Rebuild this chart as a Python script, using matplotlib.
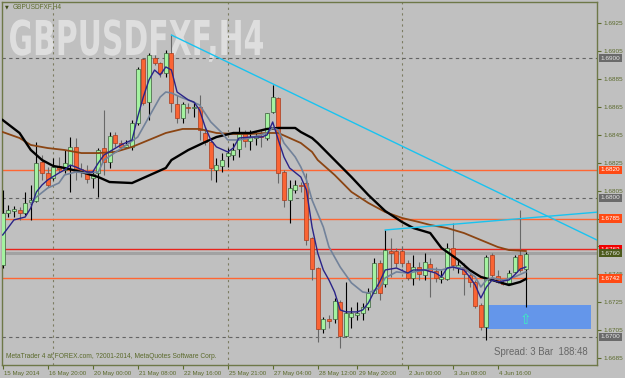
import matplotlib
matplotlib.use("Agg")
import numpy as np
import matplotlib.pyplot as plt
from matplotlib.patches import Rectangle, PathPatch
from matplotlib.textpath import TextPath
from matplotlib.font_manager import FontProperties
from matplotlib.transforms import Affine2D, offset_copy, blended_transform_factory

# GBPUSDFXF H4 candles (bar index = position on the chart)
opens = [1.67517, 1.67890, 1.67904, 1.67911, 1.67890, 1.67969, 1.67976, 1.68256, 1.68177, 1.68141,
         1.68227, 1.68199, 1.68234, 1.68364, 1.68206, 1.68191, 1.68141, 1.68177, 1.68356, 1.68256,
         1.68450, 1.68392, 1.68364, 1.68364, 1.68536, 1.68995, 1.68686, 1.69002, 1.68966, 1.68895,
         1.69038, 1.68672, 1.68572, 1.68651, 1.68643, 1.68651, 1.68464, 1.68399, 1.68199, 1.68227,
         1.68299, 1.68306, 1.68349, 1.68471, 1.68407, 1.68428, 1.68442, 1.68428, 1.68615, 1.68715,
         1.68184, 1.67983, 1.68055, 1.68091, 1.68105, 1.67711, 1.67495, 1.67058, 1.67129, 1.67129,
         1.67251, 1.67007, 1.67144, 1.67158, 1.67172, 1.67215, 1.67316, 1.67531, 1.67380, 1.67617,
         1.67617, 1.67617, 1.67531, 1.67424, 1.67502, 1.67445, 1.67524, 1.67474, 1.67416, 1.67416,
         1.67639, 1.67502, 1.67502, 1.67445, 1.67395, 1.67230, 1.67072, 1.67589, 1.67438, 1.67388,
         1.67388, 1.67467, 1.67589, 1.67488]
highs = [1.68055, 1.67947, 1.67940, 1.67933, 1.68041, 1.68091, 1.68399, 1.68306, 1.68220, 1.68285,
         1.68292, 1.68342, 1.68435, 1.68428, 1.68249, 1.68234, 1.68199, 1.68356, 1.68629, 1.68471,
         1.68471, 1.68414, 1.68414, 1.68557, 1.68938, 1.69002, 1.69038, 1.69024, 1.68974, 1.69060,
         1.69167, 1.68737, 1.68686, 1.68679, 1.68686, 1.68737, 1.68507, 1.68428, 1.68285, 1.68320,
         1.68356, 1.68392, 1.68507, 1.68486, 1.68486, 1.68471, 1.68486, 1.68608, 1.68808, 1.68722,
         1.68199, 1.68127, 1.68127, 1.68112, 1.68177, 1.67718, 1.67502, 1.67144, 1.67158, 1.67280,
         1.67266, 1.67395, 1.67215, 1.67251, 1.67244, 1.67352, 1.67567, 1.67553, 1.67768, 1.67711,
         1.67639, 1.67653, 1.67553, 1.67589, 1.67538, 1.67603, 1.67567, 1.67502, 1.67481, 1.67675,
         1.67818, 1.67553, 1.67531, 1.67459, 1.67409, 1.67244, 1.67589, 1.67603, 1.67481, 1.67409,
         1.67481, 1.67589, 1.67911, 1.67610]
lows = [1.67495, 1.67861, 1.67861, 1.67840, 1.67876, 1.67840, 1.67969, 1.68127, 1.68077, 1.68127,
        1.68184, 1.68177, 1.68041, 1.68127, 1.68148, 1.68105, 1.68069, 1.68005, 1.68163, 1.68213,
        1.68364, 1.68342, 1.68356, 1.68342, 1.68521, 1.68665, 1.68557, 1.68952, 1.68866, 1.68866,
        1.68615, 1.68536, 1.68536, 1.68608, 1.68579, 1.68414, 1.68378, 1.68127, 1.68112, 1.68184,
        1.68220, 1.68270, 1.68292, 1.68364, 1.68342, 1.68378, 1.68364, 1.68414, 1.68608, 1.68105,
        1.67933, 1.67818, 1.68033, 1.68041, 1.67660, 1.67409, 1.66964, 1.67029, 1.67065, 1.67101,
        1.66921, 1.67000, 1.67065, 1.67122, 1.67122, 1.67194, 1.67316, 1.67266, 1.67359, 1.67431,
        1.67502, 1.67502, 1.67409, 1.67373, 1.67409, 1.67409, 1.67287, 1.67395, 1.67388, 1.67409,
        1.67481, 1.67459, 1.67302, 1.67359, 1.67208, 1.67050, 1.66979, 1.67431, 1.67388, 1.67373,
        1.67373, 1.67459, 1.67467, 1.67215]
closes = [1.67890, 1.67911, 1.67919, 1.67890, 1.67962, 1.67983, 1.68249, 1.68177, 1.68091, 1.68220,
          1.68206, 1.68249, 1.68364, 1.68206, 1.68184, 1.68134, 1.68170, 1.68342, 1.68256, 1.68442,
          1.68392, 1.68364, 1.68378, 1.68536, 1.68923, 1.68679, 1.69024, 1.68966, 1.68895, 1.69038,
          1.68679, 1.68572, 1.68672, 1.68643, 1.68651, 1.68486, 1.68399, 1.68213, 1.68234, 1.68270,
          1.68320, 1.68342, 1.68464, 1.68407, 1.68435, 1.68442, 1.68435, 1.68608, 1.68722, 1.68177,
          1.67983, 1.68069, 1.68091, 1.68084, 1.67696, 1.67488, 1.67058, 1.67129, 1.67115, 1.67258,
          1.67007, 1.67172, 1.67172, 1.67172, 1.67215, 1.67316, 1.67531, 1.67316, 1.67624, 1.67603,
          1.67531, 1.67531, 1.67424, 1.67502, 1.67452, 1.67538, 1.67474, 1.67424, 1.67431, 1.67639,
          1.67517, 1.67517, 1.67452, 1.67395, 1.67223, 1.67072, 1.67574, 1.67445, 1.67395, 1.67380,
          1.67459, 1.67574, 1.67481, 1.67596]

# moving averages (bar, price)
fast_bars = [0, 2, 4, 5, 6, 7, 8, 10, 11, 12, 13, 15, 16, 17, 18, 21, 23, 24, 25, 26, 27, 28, 29, 30,
             31, 33, 34, 35, 36, 37, 38, 40, 41, 42, 44, 46, 47, 48, 49, 50, 51, 53, 54, 55, 56, 57,
             58, 59, 60, 61, 63, 64, 65, 66, 67, 68, 70, 72, 73, 75, 77, 78, 79, 80, 82, 83, 84, 85,
             86, 87, 88, 90, 91, 92, 93]
fast_ma = [1.67732, 1.67840, 1.67861, 1.67926, 1.68041, 1.68091, 1.68127, 1.68177, 1.68199, 1.68234,
           1.68220, 1.68184, 1.68184, 1.68249, 1.68306, 1.68378, 1.68414, 1.68579, 1.68722, 1.68844,
           1.68916, 1.68880, 1.68938, 1.68916, 1.68758, 1.68701, 1.68686, 1.68629, 1.68507, 1.68414,
           1.68364, 1.68328, 1.68356, 1.68428, 1.68435, 1.68435, 1.68450, 1.68543, 1.68414, 1.68292,
           1.68213, 1.68148, 1.68055, 1.67789, 1.67603, 1.67481, 1.67409, 1.67323, 1.67194, 1.67180,
           1.67180, 1.67194, 1.67244, 1.67323, 1.67395, 1.67481, 1.67495, 1.67459, 1.67481, 1.67481,
           1.67459, 1.67431, 1.67495, 1.67502, 1.67481, 1.67431, 1.67373, 1.67280, 1.67359, 1.67409,
           1.67395, 1.67409, 1.67445, 1.67488, 1.67502]

mid_bars = [5, 6, 8, 10, 11, 13, 15, 17, 18, 22, 24, 26, 28, 29, 30, 32, 33, 35, 37, 39, 40, 42, 44,
            47, 48, 49, 50, 52, 53, 54, 55, 57, 58, 60, 62, 64, 65, 67, 68, 70, 72, 76, 78, 80, 82,
            84, 85, 86, 87, 89, 91, 93]
mid_ma = [1.67955, 1.68005, 1.68069, 1.68105, 1.68163, 1.68184, 1.68177, 1.68184, 1.68270, 1.68378,
          1.68435, 1.68579, 1.68722, 1.68758, 1.68751, 1.68715, 1.68701, 1.68665, 1.68543, 1.68464,
          1.68414, 1.68414, 1.68428, 1.68464, 1.68500, 1.68486, 1.68392, 1.68292, 1.68220, 1.68127,
          1.67983, 1.67789, 1.67646, 1.67502, 1.67388, 1.67323, 1.67316, 1.67352, 1.67424, 1.67467,
          1.67459, 1.67488, 1.67481, 1.67502, 1.67495, 1.67431, 1.67359, 1.67409, 1.67424, 1.67409,
          1.67431, 1.67467]

slow_bars = [0, 3, 5, 7, 9, 11, 14, 17, 19, 23, 25, 27, 29, 30, 33, 36, 38, 41, 44, 47, 49, 52, 53,
             55, 56, 59, 62, 65, 68, 71, 73, 76, 78, 81, 83, 85, 87, 90, 92, 93]
slow_ma = [1.68557, 1.68464, 1.68342, 1.68270, 1.68227, 1.68213, 1.68184, 1.68148, 1.68112, 1.68105,
           1.68141, 1.68177, 1.68213, 1.68270, 1.68342, 1.68399, 1.68435, 1.68464, 1.68464, 1.68493,
           1.68500, 1.68500, 1.68471, 1.68428, 1.68392, 1.68270, 1.68148, 1.68019, 1.67904, 1.67825,
           1.67782, 1.67746, 1.67639, 1.67553, 1.67481, 1.67431, 1.67409, 1.67373, 1.67395, 1.67416]

long_bars = [0, 3, 5, 8, 11, 14, 17, 20, 23, 26, 29, 32, 35, 38, 41, 44, 47, 49, 51, 53, 55, 56, 59,
             62, 65, 68, 71, 74, 76, 79, 82, 85, 88, 90, 93]
long_ma = [1.68471, 1.68428, 1.68378, 1.68356, 1.68342, 1.68320, 1.68320, 1.68328, 1.68364, 1.68414,
           1.68464, 1.68493, 1.68493, 1.68464, 1.68457, 1.68457, 1.68464, 1.68464, 1.68428, 1.68392,
           1.68328, 1.68270, 1.68163, 1.68041, 1.67962, 1.67897, 1.67854, 1.67825, 1.67804, 1.67782,
           1.67746, 1.67696, 1.67646, 1.67624, 1.67617]

# trend lines (bar, price)
trend_down = [(30, 1.69167), (106, 1.67689)]
trend_up = [(68, 1.67768), (106, 1.67897)]

# horizontal levels
round_levels = [1.6900, 1.6800, 1.6700]
orange_levels = [1.6820, 1.6785, 1.6742]
red_level = 1.6763
bid_level = 1.6760

zone_bars = (86, 104.5)
zone_prices = (1.67058, 1.67230)
arrow_bar, arrow_price = 93, 1.67122

separator_bars = [9, 40, 71]
time_bars = [0, 8, 16, 24, 32, 40, 48, 56, 63, 72, 80, 88]
time_labels = ["15 May 2014", "16 May 20:00", "20 May 00:00", "21 May 08:00", "22 May 16:00",
               "25 May 21:00", "27 May 04:00", "28 May 12:00", "29 May 20:00", "2 Jun 00:00",
               "3 Jun 08:00", "4 Jun 16:00"]
price_ticks = [1.6685, 1.6705, 1.6725, 1.6745, 1.6765, 1.6785, 1.6805, 1.6825, 1.6845,
               1.6865, 1.6885, 1.6905, 1.6925]
# scale labels hidden under the price boxes on the reference
hidden_ticks = [1.6765, 1.6785]

BG = "#c0c0c0"
FG = "#5b6a2c"
FONT = "Liberation Sans"

fig = plt.figure(figsize=(6.25, 3.78), dpi=100, facecolor=BG)
ax = fig.add_axes([2 / 625, 13 / 378, 595 / 625, 363 / 378], facecolor=BG)

# watermark
fp = FontProperties(family="DejaVu Sans", weight="bold")
wm = TextPath((0, 0), "GBPUSDFXF,H4", size=10, prop=fp)
cap = TextPath((0, 0), "H", size=10, prop=fp).get_extents()
ext = wm.get_extents()
tr = (Affine2D().translate(-ext.x0, 0)
      .scale((263 - 10) / 625 / ext.width, (55 - 20) / 378 / cap.height)
      .translate(10 / 625, 1 - 55 / 378) + fig.transFigure)
ax.add_patch(PathPatch(wm, transform=tr, facecolor="#dedede", edgecolor="none", zorder=0.5))

# grid / levels
for b in separator_bars:
    ax.axvline(b, color="#7c7c62", lw=0.8, ls=(0, (2, 3)), zorder=1)
for p in round_levels:
    ax.axhline(p, color="#646464", lw=0.8, ls=(0, (3, 3)), zorder=1)
for p in orange_levels:
    ax.axhline(p, color="#ff6632", lw=1.0, zorder=1.2)
ax.axhline(bid_level, color="#a2a2a2", lw=2.2, zorder=1.1)
ax.axhline(red_level, color="#e8241c", lw=1.0, zorder=1.2)

ax.add_patch(Rectangle((zone_bars[0], zone_prices[0]), zone_bars[1] - zone_bars[0],
                       zone_prices[1] - zone_prices[0], facecolor="#6496ea", edgecolor="none",
                       zorder=1.5))

# candles
o = np.array(opens); h = np.array(highs); l = np.array(lows); c = np.array(closes)
x = np.arange(len(o))
up = c >= o
body = np.maximum(np.abs(c - o), 0.000012)
ax.vlines(x[up], l[up], h[up], color="black", lw=0.8, zorder=3)
ax.vlines(x[~up], l[~up], h[~up], color="#686868", lw=0.8, zorder=3)
ax.bar(x[up], body[up], bottom=np.minimum(o, c)[up], width=0.7, color="#a4f2a0",
       edgecolor="#3c5c3c", lw=0.5, zorder=4)
ax.bar(x[~up], body[~up], bottom=np.minimum(o, c)[~up], width=0.7, color="#fa6434",
       edgecolor="#a83a1c", lw=0.5, zorder=4)

# indicators
ax.plot(long_bars, long_ma, color="#8b4513", lw=1.3, zorder=5)
ax.plot(slow_bars, slow_ma, color="black", lw=1.7, zorder=5)
ax.plot(mid_bars, mid_ma, color="#72829a", lw=1.2, zorder=5)
ax.plot(fast_bars, fast_ma, color="#2a2488", lw=1.0, zorder=5)

ax.plot(*zip(*trend_down), color="#19c3f0", lw=1.0, zorder=5)
ax.plot(*zip(*trend_up), color="#19c3f0", lw=1.0, zorder=5)

ax.text(arrow_bar, arrow_price, "\u21e7", color="#3cf0c0", fontsize=10, ha="center",
        va="center", zorder=6, family="DejaVu Sans")

ax.set_xlim(-0.12, 105.65)
ax.set_ylim(1.66799, 1.69404)

# axes styling
for s in ax.spines.values():
    s.set_color("#6e7848")
    s.set_linewidth(1.0)
ax.yaxis.tick_right()
ax.set_yticks(price_ticks)
ax.set_yticklabels(["" if p in hidden_ticks else f"{p:.4f}" for p in price_ticks],
                   fontsize=4.6, color=FG, family=FONT)
ax.tick_params(axis="y", direction="out", length=3, width=0.8, color=FG, pad=1.5)
ax.set_xticks(time_bars)
ax.set_xticklabels([])
ax.tick_params(axis="x", direction="out", length=3, width=0.8, color=FG)

xt = offset_copy(ax.get_xaxis_transform(), fig=fig, x=1.5, y=-8.5, units="dots")
for b, lab in zip(time_bars, time_labels):
    ax.text(b, 0, lab, transform=xt, fontsize=4.4, color=FG, family=FONT,
            ha="left", va="center", clip_on=False)

# price boxes on the right scale
yt = blended_transform_factory(ax.transAxes, ax.transData)
boxes = [(1.6900, "#6a6a6a", "#e6e6e6"), (1.6820, "#ff4a14", "white"),
         (1.6800, "#6a6a6a", "#e6e6e6"), (1.6785, "#ff4a14", "white"),
         (red_level, "#f00000", "white"), (bid_level, "#4c5a1c", "#e6e6e6"),
         (1.6742, "#ff4a14", "white"), (1.6700, "#6a6a6a", "#e6e6e6")]
for k, (p, bg, fg) in enumerate(boxes):
    ax.text(1.006, p, f"{p:.4f}", transform=yt, fontsize=4.6, color=fg, family=FONT,
            ha="left", va="center", clip_on=False, zorder=10 + k,
            bbox=dict(boxstyle="square,pad=0.25", facecolor=bg, edgecolor="none"))

# captions
fig.text(5 / 625, 1 - 7 / 378, "\u25bc", fontsize=3.5, color="#3c4a14", ha="left", va="center")
fig.text(13 / 625, 1 - 7 / 378, "GBPUSDFXF,H4", fontsize=4.7, color=FG, family=FONT,
         ha="left", va="center")
ax.text(0.006, 0.015, "MetaTrader 4 at FOREX.com, ?2001-2014, MetaQuotes Software Corp.",
        transform=ax.transAxes, fontsize=4.8, color=FG, family=FONT, ha="left", va="bottom")
ax.text(0.985, 0.022, "Spread: 3 Bar  188:48", transform=ax.transAxes, fontsize=6.9,
        color="#666666", family=FONT, ha="right", va="bottom")

fig.savefig("out.png", dpi=100, facecolor=BG)
